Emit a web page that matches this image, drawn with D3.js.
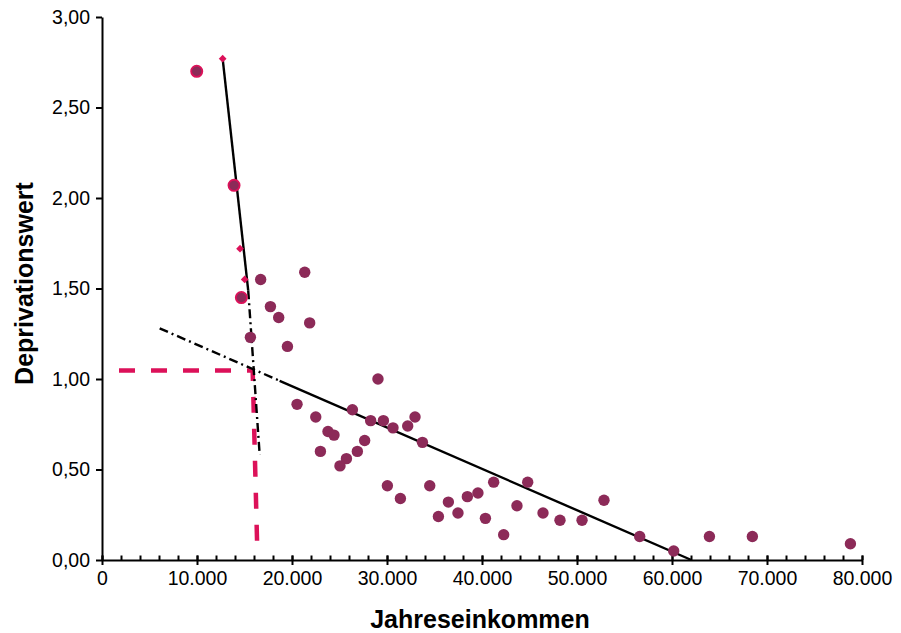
<!DOCTYPE html>
<html>
<head>
<meta charset="utf-8">
<script src="https://cdn.jsdelivr.net/npm/d3@7"></script>
<style>
  body { margin: 0; background: #fff; }
  svg { font-family: 'Liberation Sans', Arial, Helvetica, sans-serif; }
  .axis path, .axis line { stroke: #000; stroke-width: 2; }
  .axis text { font-size: 19.5px; fill: #000; }
  .label { font-size: 25px; font-weight: bold; }
</style>
</head>
<body>
<div id="chart"></div>
<script>
// --- data ---
// Jahreseinkommen / Deprivationswert of the households (purple dots)
const income = [16700, 21340, 17730, 18600, 21860, 15620, 19520, 20530, 22500, 26360,
  23790, 24420, 22990, 25730, 26880, 27650, 25050, 28280, 29050, 29620,
  30630, 32180, 32950, 33730, 30040, 31410, 34500, 35410, 36460, 37470,
  38460, 39570, 40360, 41230, 42280, 43680, 44810, 46420, 48210, 50530,
  52840, 56600, 60180, 63940, 68460, 78780];
const deprivation = [1.55, 1.59, 1.40, 1.34, 1.31, 1.23, 1.18, 0.86, 0.79, 0.83,
  0.71, 0.69, 0.60, 0.56, 0.60, 0.66, 0.52, 0.77, 1.00, 0.77,
  0.73, 0.74, 0.79, 0.65, 0.41, 0.34, 0.41, 0.24, 0.32, 0.26,
  0.35, 0.37, 0.23, 0.43, 0.14, 0.30, 0.43, 0.26, 0.22, 0.22,
  0.33, 0.13, 0.05, 0.13, 0.13, 0.09];

// low incomes (dots with a red ring)
const lowIncome = [9970, 13900, 14670];
const lowDeprivation = [2.70, 2.07, 1.45];

// values on the steep fit (diamonds)
const fitIncome = [12700, 14530, 15020];
const fitDeprivation = [2.77, 1.72, 1.55];

// fit lines: solid part and dash-dot extension
const steepSolid = [[12700, 2.77], [15390, 1.49]];
const steepDash = [[15390, 1.49], [16600, 0.58]];
const flatDash = [[6070, 1.28], [18700, 0.99]];
const flatSolid = [[18700, 0.99], [62040, 0.0]];

// threshold (red dashed)
const threshold = [[1790, 1.047], [15860, 1.047], [16340, 0.066]];

const xTicks = [0, 10000, 20000, 30000, 40000, 50000, 60000, 70000, 80000];
const xMinorTicks = d3.range(0, 80001, 2000);
const yTicks = [0, 0.5, 1, 1.5, 2, 2.5, 3];

const xLabel = 'Jahreseinkommen';
const yLabel = 'Deprivationswert';

// --- drawing ---
const width = 901, height = 633;
const margin = {top: 17, right: 39, bottom: 73, left: 102};

const de = d3.formatLocale({decimal: ',', thousands: '.', grouping: [3], currency: ['', ' €']});

const svg = d3.select('#chart')
  .append('svg')
  .attr('width', width)
  .attr('height', height);

const scaleX = d3.scaleLinear([0, 80000], [margin.left, width - margin.right]);
const scaleY = d3.scaleLinear([0, 3], [height - margin.bottom, margin.top]);

const purple = '#8c2a58';
const red = '#dc1159';

// axes
svg.append('g')
  .attr('class', 'axis')
  .attr('transform', `translate(0,${scaleY(0)})`)
  .call(d3.axisBottom(scaleX).tickValues(xMinorTicks).tickSizeInner(-4.5).tickSizeOuter(0).tickFormat(''));

svg.append('g')
  .attr('class', 'axis')
  .attr('transform', `translate(0,${scaleY(0)})`)
  .call(d3.axisBottom(scaleX).tickValues(xTicks).tickSizeInner(5).tickSizeOuter(0)
    .tickPadding(6).tickFormat(de.format(',')))
  .call(g => g.select('.domain').remove())
  .call(g => g.selectAll('.tick line').attr('y1', -4.5));

svg.append('g')
  .attr('class', 'axis')
  .attr('transform', `translate(${scaleX(0)},0)`)
  .call(d3.axisLeft(scaleY).tickValues(yTicks).tickSizeInner(6).tickSizeOuter(0)
    .tickPadding(6).tickFormat(de.format(',.2f')));

svg.append('text')
  .attr('class', 'label')
  .attr('x', (scaleX(0) + scaleX(80000)) / 2 - 2)
  .attr('y', 628)
  .attr('text-anchor', 'middle')
  .text(xLabel);

svg.append('text')
  .attr('class', 'label')
  .attr('transform', `translate(33,${(scaleY(0) + scaleY(3)) / 2 - 5})rotate(-90)`)
  .attr('text-anchor', 'middle')
  .text(yLabel);

// lines
const line = d3.line()
  .x(d => scaleX(d[0]))
  .y(d => scaleY(d[1]));

svg.append('path')
  .attr('d', line(threshold))
  .attr('fill', 'none')
  .attr('stroke', red)
  .attr('stroke-width', 4.5)
  .attr('stroke-dasharray', '16,16');

[[steepSolid, null], [steepDash, '9,4,2,4'], [flatDash, '9,4,2,4'], [flatSolid, null]]
  .forEach(([pts, dash]) => {
    svg.append('path')
      .attr('d', line(pts))
      .attr('fill', 'none')
      .attr('stroke', '#000')
      .attr('stroke-width', 2.4)
      .attr('stroke-dasharray', dash);
  });

// points
svg.append('g')
  .selectAll('circle')
  .data(d3.zip(income, deprivation))
  .join('circle')
  .attr('cx', d => scaleX(d[0]))
  .attr('cy', d => scaleY(d[1]))
  .attr('r', 5.7)
  .attr('fill', purple);

svg.append('g')
  .selectAll('circle')
  .data(d3.zip(lowIncome, lowDeprivation))
  .join('circle')
  .attr('cx', d => scaleX(d[0]))
  .attr('cy', d => scaleY(d[1]))
  .attr('r', 5.6)
  .attr('fill', purple)
  .attr('stroke', red)
  .attr('stroke-width', 1.8);

svg.append('g')
  .selectAll('path')
  .data(d3.zip(fitIncome, fitDeprivation))
  .join('path')
  .attr('d', d3.symbol(d3.symbolSquare, 30))
  .attr('transform', d => `translate(${scaleX(d[0])},${scaleY(d[1])})rotate(45)`)
  .attr('fill', red);
</script>
</body>
</html>
